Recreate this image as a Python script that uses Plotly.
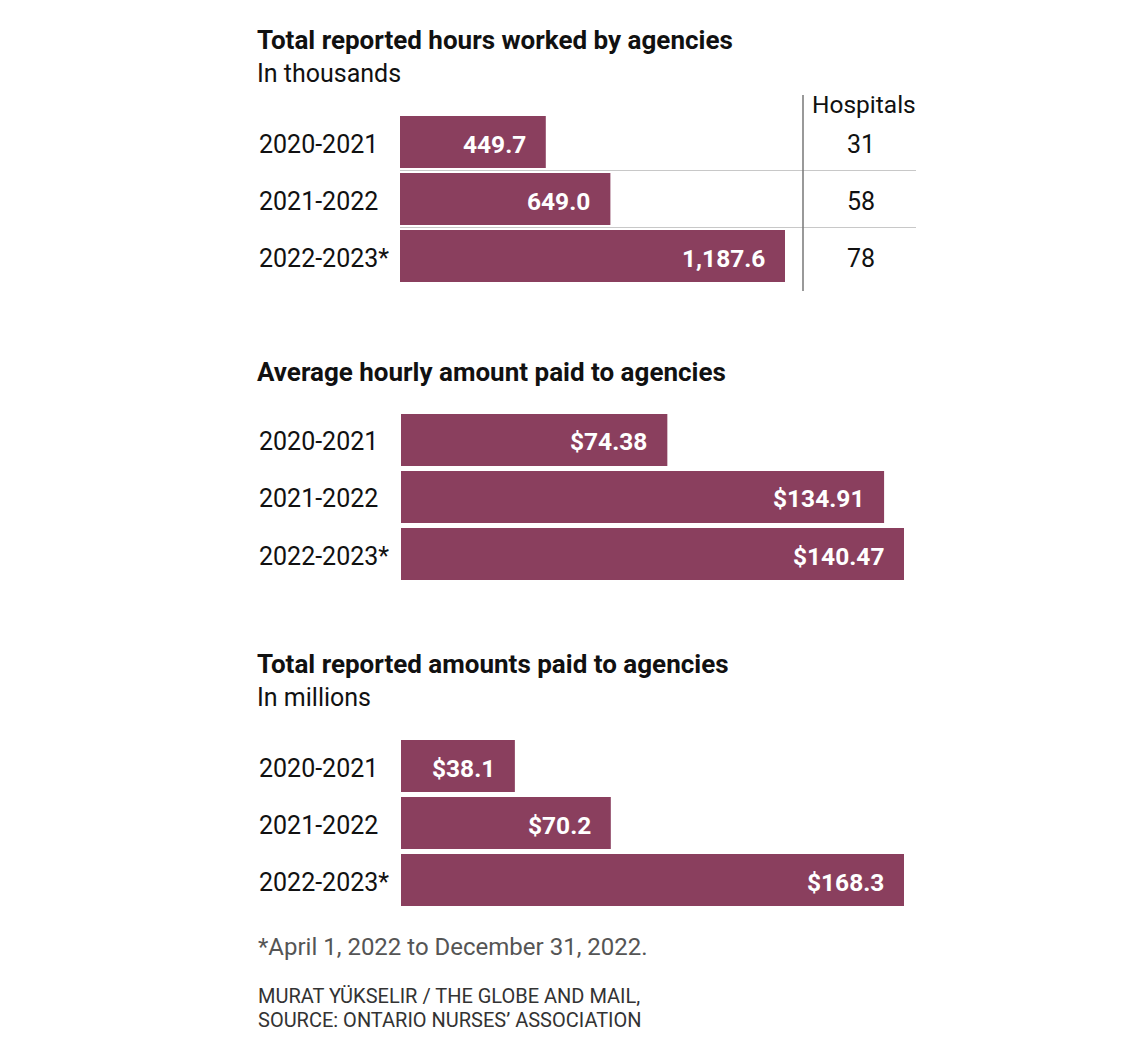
import plotly.graph_objects as go

W, H = 1141, 1049

years = ["2020-2021", "2021-2022", "2022-2023*"]
hours_k = [449.7, 649.0, 1187.6]
hours_labels = ["449.7", "649.0", "1,187.6"]
hospitals = [31, 58, 78]
hourly = [74.38, 134.91, 140.47]
hourly_labels = ["$74.38", "$134.91", "$140.47"]
paid_m = [38.1, 70.2, 168.3]
paid_labels = ["$38.1", "$70.2", "$168.3"]

titles = ["Total reported hours worked by agencies",
          "Average hourly amount paid to agencies",
          "Total reported amounts paid to agencies"]
subtitles = ["In thousands", None, "In millions"]
footnote = "*April 1, 2022 to December 31, 2022."
credit = ["MURAT YÜKSELIR / THE GLOBE AND MAIL,", "SOURCE: ONTARIO NURSES’ ASSOCIATION"]

BAR = "#8a3f5e"
FONT = "Roboto"
OFF = 8  # page body margin


def px(x):
    return (x - OFF) / W


def py(y):
    return 1 - (y - OFF) / H


panels = [
    dict(vals=hours_k, labels=hours_labels, x0=400, x1=785, ytop=113.5, title_y=40, sub_y=74),
    dict(vals=hourly, labels=hourly_labels, x0=401, x1=904, ytop=411.5, title_y=372, sub_y=None),
    dict(vals=paid_m, labels=paid_labels, x0=401, x1=904, ytop=737.5, title_y=664, sub_y=697),
]
ROW = 57

fig = go.Figure()
annotations = []
shapes = []

for i, p in enumerate(panels):
    n = i + 1
    xa = "x" if n == 1 else f"x{n}"
    ya = "y" if n == 1 else f"y{n}"
    fig.add_trace(go.Bar(
        x=p["vals"], y=years, orientation="h", xaxis=xa, yaxis=ya,
        marker=dict(color=BAR, line=dict(width=0)), hoverinfo="skip",
    ))
    ybot = p["ytop"] + 3 * ROW
    fig.update_layout(**{
        ("xaxis" if n == 1 else f"xaxis{n}"): dict(
            domain=[px(p["x0"]), px(p["x1"])], range=[0, max(p["vals"])],
            visible=False, fixedrange=True, anchor=ya),
        ("yaxis" if n == 1 else f"yaxis{n}"): dict(
            domain=[py(ybot), py(p["ytop"])], type="category",
            categoryorder="array", categoryarray=years, range=[2.5, -0.5],
            visible=False, fixedrange=True, anchor=xa),
    })
    for yr, v, lab in zip(years, p["vals"], p["labels"]):
        annotations.append(dict(
            x=v, y=yr, xref=xa, yref=ya, text=f"<b>{lab}</b>", showarrow=False,
            xanchor="right", xshift=-18, yshift=-2,
            font=dict(family=FONT, size=24.5, color="white")))
        annotations.append(dict(
            x=px(257), y=yr, xref="paper", yref=ya, text=yr, showarrow=False,
            xanchor="left", yshift=-2, font=dict(family=FONT, size=25, color="#111")))
    annotations.append(dict(
        x=px(255), y=py(p["title_y"]), xref="paper", yref="paper",
        text=f"<b>{titles[i]}</b>", showarrow=False, xanchor="left", yanchor="middle",
        font=dict(family=FONT, size=26, color="#111")))
    if subtitles[i]:
        annotations.append(dict(
            x=px(255), y=py(p["sub_y"]), xref="paper", yref="paper",
            text=subtitles[i], showarrow=False, xanchor="left", yanchor="middle",
            font=dict(family=FONT, size=25, color="#111")))

# Hospitals column for panel 1
annotations.append(dict(
    x=px(864), y=py(104), xref="paper", yref="paper", text="Hospitals",
    showarrow=False, xanchor="center", yanchor="middle",
    font=dict(family=FONT, size=24.5, color="#111")))
for yr, h in zip(years, hospitals):
    annotations.append(dict(
        x=px(861), y=yr, xref="paper", yref="y", text=str(h), showarrow=False,
        xanchor="center", yshift=-2, font=dict(family=FONT, size=25, color="#111")))
for yv in [0.5, 1.5]:
    shapes.append(dict(type="line", xref="paper", yref="y", x0=px(400), x1=px(916),
                       y0=yv, y1=yv, line=dict(color="#c8c8c8", width=1), layer="below"))
shapes.append(dict(type="line", xref="paper", yref="paper", x0=px(803), x1=px(803),
                   y0=py(95), y1=py(291), line=dict(color="#777", width=1.5)))

annotations.append(dict(
    x=px(256), y=py(947), xref="paper", yref="paper", text=footnote, showarrow=False,
    xanchor="left", yanchor="middle", font=dict(family=FONT, size=24, color="#555")))
for j, line in enumerate(credit):
    annotations.append(dict(
        x=px(256), y=py(996 + 24 * j), xref="paper", yref="paper", text=line,
        showarrow=False, xanchor="left", yanchor="middle",
        font=dict(family=FONT, size=20, color="#333")))

fig.update_layout(
    width=W, height=H, margin=dict(l=0, r=0, t=0, b=0),
    paper_bgcolor="white", plot_bgcolor="rgba(0,0,0,0)",
    showlegend=False, bargap=0.088,
    annotations=annotations, shapes=shapes,
    font=dict(family=FONT),
)

fig.write_html("out.html", config={"displayModeBar": False})
